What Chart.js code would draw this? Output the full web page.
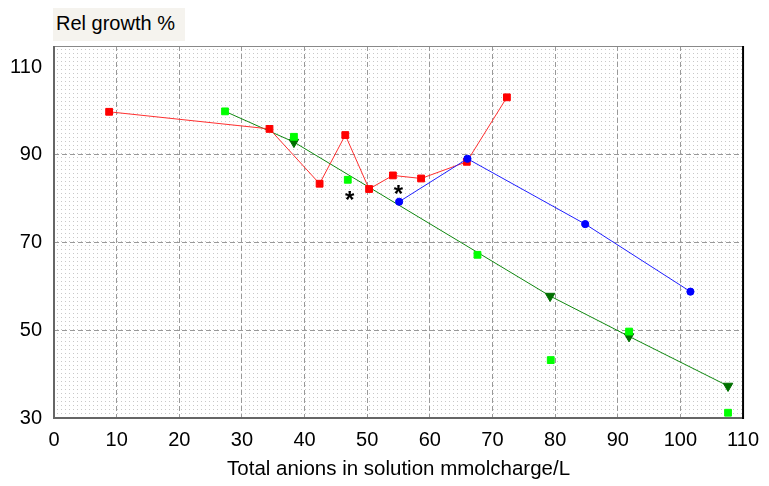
<!DOCTYPE html>
<html>
<head>
<meta charset="utf-8">
<script src="https://cdn.jsdelivr.net/npm/chart.js@4.4.1/dist/chart.umd.min.js"></script>
<style>
body { margin: 0; background: #fff; }
#wrap { position: relative; width: 769px; height: 486px; }
#ttl { position: absolute; left: 53px; top: 8px; width: 132px; height: 33px; background: #f5f3ee;
       font: 20px "Liberation Sans", Arial, sans-serif; line-height: 30px; padding-left: 3px; box-sizing: border-box; }
</style>
</head>
<body>
<div id="wrap">
  <canvas id="myChart" width="769" height="486"></canvas>
  <div id="ttl">Rel growth %</div>
</div>
<script>
// de waarden
var redX = [8.8, 34.4, 42.4, 46.5, 50.3, 54.1, 58.6, 65.9, 72.3];
var redY = [99.8, 95.9, 83.4, 94.5, 82.2, 85.3, 84.6, 88.4, 103.1];
var blueX = [55.1, 66.0, 84.8, 101.6];
var blueY = [79.3, 89.1, 74.2, 58.8];
var darkGreenX = [27.3, 38.3, 79.2, 91.8, 107.6];
var darkGreenY = [99.9, 92.9, 57.8, 48.6, 37.3];
var lightGreenX = [27.3, 38.3, 46.9, 67.6, 79.3, 91.8, 107.6];
var lightGreenY = [99.9, 94.1, 84.3, 67.2, 43.2, 49.7, 31.2];
var starX = [47.2, 55.0];
var starY = [80.6, 82.0];
var yTicks = [30, 50, 70, 90, 110];
var xTitle = 'Total anions in solution mmolcharge/L';

function pts(xs, ys) {
    return xs.map(function (x, i) { return { x: x, y: ys[i] }; });
}

var font = '"Liberation Sans", Arial, sans-serif';

// achtergrond met puntjes
var dots = document.createElement('canvas');
dots.width = 4; dots.height = 4;
var dctx = dots.getContext('2d');
dctx.fillStyle = '#c8c8c8';
dctx.fillRect(1, 1, 1, 1);

var bgPlugin = {
    id: 'bg',
    beforeDraw: function (chart) {
        var a = chart.chartArea, c = chart.ctx;
        c.save();
        c.fillStyle = '#fff';
        c.fillRect(a.left, a.top, a.right - a.left, a.bottom - a.top);
        c.fillStyle = c.createPattern(dots, 'repeat');
        c.fillRect(a.left, a.top, a.right - a.left, a.bottom - a.top);
        c.restore();
    },
    afterDatasetsDraw: function (chart) {
        var a = chart.chartArea, c = chart.ctx;
        c.save();
        // kader
        c.strokeStyle = '#888';
        c.lineWidth = 1;
        c.beginPath(); c.moveTo(a.left, a.top + 0.5); c.lineTo(a.right, a.top + 0.5); c.stroke();
        c.strokeStyle = '#666';
        c.lineWidth = 2;
        c.beginPath(); c.moveTo(a.left, a.top); c.lineTo(a.left, a.bottom); c.lineTo(a.right, a.bottom); c.stroke();
        c.strokeStyle = '#000';
        c.beginPath(); c.moveTo(a.right, a.top); c.lineTo(a.right, a.bottom + 1); c.stroke();
        // sterretjes
        c.fillStyle = '#000';
        c.font = 'bold 24px ' + font;
        c.textAlign = 'center';
        c.textBaseline = 'middle';
        for (var i = 0; i < starX.length; i++) {
            var px = chart.scales.x.getPixelForValue(starX[i]);
            var py = chart.scales.y.getPixelForValue(starY[i]);
            c.fillText('*', px, py + 5);
        }
        c.restore();
    }
};

function gridColor(edges) {
    return function (ctx) {
        return edges.indexOf(ctx.tick.value) >= 0 ? 'rgba(0,0,0,0)' : '#999';
    };
}

var ctx1 = document.getElementById('myChart');
var myChart = new Chart(ctx1, {
    type: 'scatter',
    data: {
        datasets: [
            {
                data: pts(lightGreenX, lightGreenY),
                showLine: false,
                pointStyle: 'rect', pointRadius: 4.8,
                backgroundColor: '#00ff00', borderColor: '#00ff00', borderWidth: 1,
                order: 1
            },
            {
                data: pts(blueX, blueY),
                showLine: true,
                borderColor: '#2020ff', borderWidth: 1,
                pointStyle: 'circle', pointRadius: 3.6,
                pointBackgroundColor: '#0000ff', pointBorderColor: '#0000ff', pointBorderWidth: 1,
                order: 2
            },
            {
                data: pts(redX, redY),
                showLine: true,
                borderColor: '#ff3030', borderWidth: 1,
                pointStyle: 'rect', pointRadius: 4.8,
                pointBackgroundColor: '#ff0000', pointBorderColor: '#ff0000', pointBorderWidth: 1,
                order: 3
            },
            {
                data: pts(darkGreenX, darkGreenY),
                showLine: true,
                borderColor: '#108810', borderWidth: 1,
                pointStyle: 'triangle', pointRotation: 180,
                // eerste punt zit onder het lichtgroene blokje
                pointRadius: function (c) { return c.dataIndex === 0 ? 0 : 5.5; },
                pointBackgroundColor: '#007000', pointBorderColor: '#007000', pointBorderWidth: 1,
                order: 4
            }
        ]
    },
    options: {
        responsive: false,
        animation: false,
        layout: { padding: { left: 0, top: 46, right: 22, bottom: 0 } },
        plugins: { legend: { display: false }, tooltip: { enabled: false } },
        elements: { line: { tension: 0 } },
        scales: {
            x: {
                type: 'linear', min: 0, max: 110,
                ticks: { stepSize: 10, color: '#000', font: { family: font, size: 20 }, padding: 10, maxRotation: 0 },
                grid: { color: gridColor([0, 110]), drawTicks: false, lineWidth: 1 },
                border: { display: false, dash: [5, 3] },
                title: { display: true, text: xTitle, color: '#000', font: { family: font, size: 20.5 }, padding: { top: 0, bottom: 4 } },
                afterFit: function (s) { s.height = 68; }
            },
            y: {
                type: 'linear', min: 30, max: 114.8,
                ticks: { color: '#000', font: { family: font, size: 20 }, padding: 12 },
                afterBuildTicks: function (s) { s.ticks = yTicks.map(function (v) { return { value: v }; }); },
                grid: { color: gridColor([30, 110]), drawTicks: false, lineWidth: 1 },
                border: { display: false, dash: [5, 3] },
                afterFit: function (s) { s.width = 54; }
            }
        }
    },
    plugins: [bgPlugin]
});
</script>
</body>
</html>
